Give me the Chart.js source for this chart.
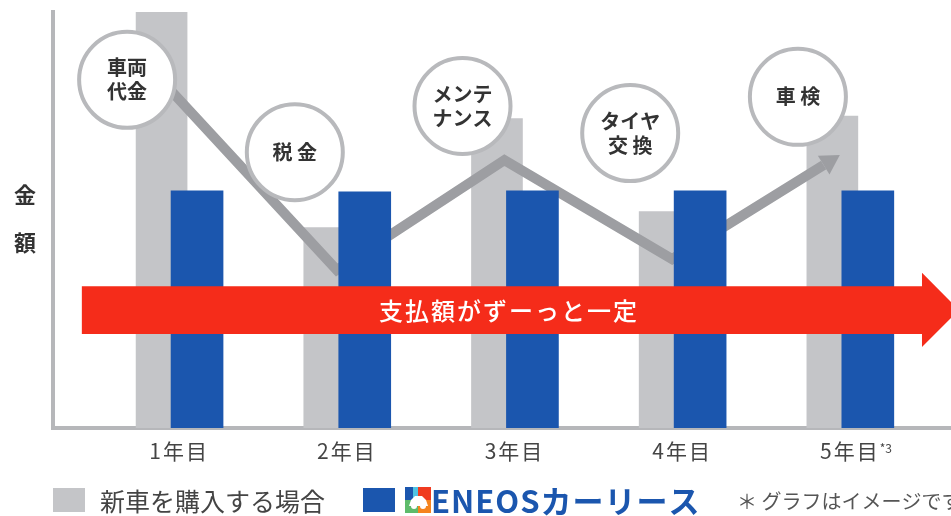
<!DOCTYPE html>
<html><head><meta charset="utf-8">
<script src="https://cdn.jsdelivr.net/npm/chart.js@4.4.1/dist/chart.umd.min.js"></script>
<style>html,body{margin:0;padding:0;background:#fff}#wrap{width:951px;height:516px;position:relative}</style>
</head><body><div id="wrap"><canvas id="c" width="951" height="516"></canvas></div>
<script>
// ---- data ----
const categories = ['1年目', '2年目', '3年目', '4年目', '5年目'];
const lastTickNote = '*3';
const purchaseCost = [100, 48.2, 74.4, 52.0, 75.0];   // 新車を購入する場合
const leaseCost = [57, 56.8, 57, 57, 57];             // ENEOSカーリース
const trendLine = [81.6, 38.0, 64.4, 40.6, 65.6];     // grey arrow
const calloutLabels = [['車両', '代金'], ['税 金'], ['メンテ', 'ナンス'], ['タイヤ', '交 換'], ['車 検']];
const calloutLevels = [83.7, 66.3, 77.4, 70.9, 79.6];
const seriesLabels = ['新車を購入する場合', 'ENEOSカーリース'];
const yTitle = ['金', '額'];
const bannerText = '支払額がずーっと一定';
const footnote = '＊ グラフはイメージです。';

// ---- styles ----
const GREY = '#c4c5c8', BLUE = '#1b56ae', LINE = '#9d9ea2', AXIS = '#b6b7ba', RED = '#f52c1a';
const FONT = "'Noto Sans CJK JP', 'Noto Sans', sans-serif";
const GREY_SHIFT = -0.1045, BLUE_SHIFT = 0.107, LINE_SHIFT = -0.06, CALLOUT_SHIFT = -0.31;

const greyData = purchaseCost.map((v, i) => ({x: i + 1 + GREY_SHIFT, y: v}));
const blueData = leaseCost.map((v, i) => ({x: i + 1 + BLUE_SHIFT, y: v}));
const lineData = trendLine.map((v, i) => ({x: i + 1 + LINE_SHIFT, y: v}));

const LINE_INDEX = 1;
const spacingPlugin = {
  id: 'tickSpacing',
  beforeDraw(chart) { chart.ctx.letterSpacing = '2px'; },
  beforeDatasetsDraw(chart) { chart.ctx.letterSpacing = '0px'; }
};
const arrowPlugin = {
  id: 'arrowHead',
  beforeDatasetDraw(chart, args) {
    if (args.index !== LINE_INDEX) return;
    const pts = args.meta.data;
    const p1 = pts[pts.length - 2], p2 = pts[pts.length - 1];
    const dx = p2.x - p1.x, dy = p2.y - p1.y, L = Math.hypot(dx, dy);
    const ux = dx / L, uy = dy / L, nx = -uy, ny = ux;
    const hl = 19;
    const bx = p2.x - ux * hl, by = p2.y - uy * hl;
    const ctx = chart.ctx;
    ctx.save();
    ctx.beginPath();
    ctx.moveTo(bx + nx * 3000, by + ny * 3000);
    ctx.lineTo(bx - nx * 3000, by - ny * 3000);
    ctx.lineTo(bx - nx * 3000 - ux * 5000, by - ny * 3000 - uy * 5000);
    ctx.lineTo(bx + nx * 3000 - ux * 5000, by + ny * 3000 - uy * 5000);
    ctx.closePath();
    ctx.clip();
  },
  afterDatasetDraw(chart, args) {
    if (args.index !== LINE_INDEX) return;
    const ctx = chart.ctx;
    ctx.restore();
    const pts = args.meta.data;
    const p1 = pts[pts.length - 2], p2 = pts[pts.length - 1];
    const dx = p2.x - p1.x, dy = p2.y - p1.y, L = Math.hypot(dx, dy);
    const ux = dx / L, uy = dy / L, nx = -uy, ny = ux;
    const hl = 19, hw = 11;
    const bx = p2.x - ux * hl, by = p2.y - uy * hl;
    ctx.save();
    ctx.fillStyle = LINE;
    ctx.beginPath();
    ctx.moveTo(p2.x, p2.y);
    ctx.lineTo(bx + nx * hw, by + ny * hw);
    ctx.lineTo(bx - nx * hw, by - ny * hw);
    ctx.closePath();
    ctx.fill();
    ctx.restore();
  }
};

const overlayPlugin = {
  id: 'overlay',
  afterDatasetsDraw(chart) {
    const ctx = chart.ctx, xs = chart.scales.x, ys = chart.scales.y;
    // callout circles
    calloutLabels.forEach((lines, i) => {
      const cx = xs.getPixelForValue(i + 1 + CALLOUT_SHIFT);
      const cy = ys.getPixelForValue(calloutLevels[i]);
      ctx.save();
      ctx.beginPath();
      ctx.arc(cx, cy, 48, 0, Math.PI * 2);
      ctx.fillStyle = '#fff';
      ctx.fill();
      ctx.lineWidth = 4;
      ctx.strokeStyle = '#b8b9bc';
      ctx.stroke();
      ctx.fillStyle = '#333';
      ctx.font = 'bold 20px ' + FONT;
      ctx.textAlign = 'center';
      ctx.textBaseline = 'middle';
      const lh = 24;
      lines.forEach((t, k) => {
        ctx.fillText(t, cx, cy + (k - (lines.length - 1) / 2) * lh);
      });
      ctx.restore();
    });
    // red banner arrow
    const x0 = xs.getPixelForValue(0.42), xb = xs.getPixelForValue(5.43), xt = xs.getPixelForValue(5.65);
    const yTop = ys.getPixelForValue(34.1), yBot = ys.getPixelForValue(22.6);
    const hTop = ys.getPixelForValue(37.3), hBot = ys.getPixelForValue(19.5);
    const ym = (yTop + yBot) / 2;
    ctx.save();
    ctx.fillStyle = RED;
    ctx.beginPath();
    ctx.moveTo(x0, yTop); ctx.lineTo(xb, yTop); ctx.lineTo(xb, hTop);
    ctx.lineTo(xt, ym); ctx.lineTo(xb, hBot); ctx.lineTo(xb, yBot); ctx.lineTo(x0, yBot);
    ctx.closePath();
    ctx.fill();
    ctx.fillStyle = '#fff';
    ctx.font = '500 24px ' + FONT;
    ctx.letterSpacing = '2px';
    ctx.textAlign = 'center';
    ctx.textBaseline = 'middle';
    ctx.fillText(bannerText, (x0 + xb) / 2 + 7, ym + 1);
    ctx.letterSpacing = '0px';
    ctx.restore();
  },
  afterDraw(chart) {
    const ctx = chart.ctx, xs = chart.scales.x, a = chart.chartArea;
    ctx.save();
    ctx.letterSpacing = '0px';
    // y title (stacked)
    ctx.fillStyle = '#333';
    ctx.font = 'bold 22px ' + FONT;
    ctx.textAlign = 'center';
    ctx.textBaseline = 'middle';
    const my = (a.top + a.bottom) / 2;
    yTitle.forEach((ch, k) => ctx.fillText(ch, a.left - 28, my - 25 + k * 48));
    // superscript on last tick
    ctx.font = '21px ' + FONT;
    ctx.letterSpacing = '2px';
    const w5 = ctx.measureText(categories[4]).width;
    const x5 = xs.getPixelForValue(5);
    ctx.letterSpacing = '0px';
    ctx.font = '12px ' + FONT;
    ctx.fillStyle = '#444';
    ctx.textAlign = 'left';
    ctx.fillText(lastTickNote, x5 + w5 / 2, a.bottom + 20);
    // legend
    const ly = 500;
    ctx.fillStyle = GREY;
    ctx.fillRect(a.left, ly - 12, 32, 24);
    ctx.fillStyle = '#444';
    ctx.font = '25px ' + FONT;
    ctx.textAlign = 'left';
    ctx.fillText(seriesLabels[0], a.left + 47, ly + 1);
    const bx = a.left + 310;
    ctx.fillStyle = BLUE;
    ctx.fillRect(bx, ly - 12, 32, 24);
    // logo
    const gx = bx + 42, gy = ly - 13, s = 13;
    ctx.fillStyle = '#1b56ae'; ctx.fillRect(gx, gy, s, s);
    ctx.fillStyle = '#4fc3e3'; ctx.fillRect(gx + 8, gy, 6, s);
    ctx.fillStyle = '#f03b20'; ctx.fillRect(gx + s, gy, s, s);
    ctx.fillStyle = '#5dbb6b'; ctx.fillRect(gx, gy + s, s, s);
    ctx.fillStyle = '#f5841f'; ctx.fillRect(gx + s, gy + s, s, s);
    ctx.fillStyle = '#fff';
    ctx.beginPath();
    ctx.moveTo(gx + 4, gy + 19); ctx.lineTo(gx + 6, gy + 13); ctx.lineTo(gx + 10, gy + 9);
    ctx.lineTo(gx + 17, gy + 9); ctx.lineTo(gx + 21, gy + 13); ctx.lineTo(gx + 23, gy + 19);
    ctx.closePath(); ctx.fill();
    ctx.beginPath(); ctx.arc(gx + 9, gy + 19, 3, 0, Math.PI * 2); ctx.fill();
    ctx.beginPath(); ctx.arc(gx + 18, gy + 19, 3, 0, Math.PI * 2); ctx.fill();
    // ENEOS text
    ctx.fillStyle = BLUE;
    ctx.font = 'bold 31px ' + FONT;
    ctx.letterSpacing = '1px';
    ctx.fillText(seriesLabels[1], gx + 26, ly + 1);
    ctx.letterSpacing = '0px';
    // footnote
    ctx.fillStyle = '#555';
    ctx.font = '20px ' + FONT;
    ctx.fillText(footnote, 737, ly + 1);
    ctx.restore();
  }
};

new Chart(document.getElementById('c'), {
  data: {
    datasets: [
      {type: 'bar', label: seriesLabels[0], data: greyData, backgroundColor: GREY, barThickness: 51, grouped: false, order: 2},
      {type: 'line', label: 'trend', data: lineData, borderColor: LINE, borderWidth: 10, pointRadius: 0,
       tension: 0, borderJoinStyle: 'miter', borderCapStyle: 'butt', order: 1, clip: false},
      {type: 'bar', label: seriesLabels[1], data: blueData, backgroundColor: BLUE, barThickness: 52, grouped: false, order: 0}
    ]
  },
  options: {
    responsive: false,
    animation: false,
    events: [],
    layout: {padding: {left: 53, top: 12, right: 0, bottom: 48}},
    plugins: {legend: {display: false}, tooltip: {enabled: false}},
    scales: {
      x: {
        type: 'linear', min: 0.248, max: 5.603, offset: false, bounds: 'data',
        afterBuildTicks: s => { s.ticks = categories.map((c, i) => ({value: i + 1})); },
        afterFit: s => { s.height = 40; },
        grid: {display: false, drawTicks: false},
        border: {color: AXIS, width: 4},
        ticks: {
          callback: v => categories[v - 1] || '',
          color: '#444', font: {family: FONT, size: 21}, padding: 10, maxRotation: 0, autoSkip: false
        }
      },
      y: {
        min: 0, max: 100,
        afterFit: s => { s.width = 0; },
        grid: {display: false, drawTicks: false},
        border: {color: AXIS, width: 4},
        ticks: {display: false}
      }
    }
  },
  plugins: [spacingPlugin, arrowPlugin, overlayPlugin]
});
</script>
</body></html>
